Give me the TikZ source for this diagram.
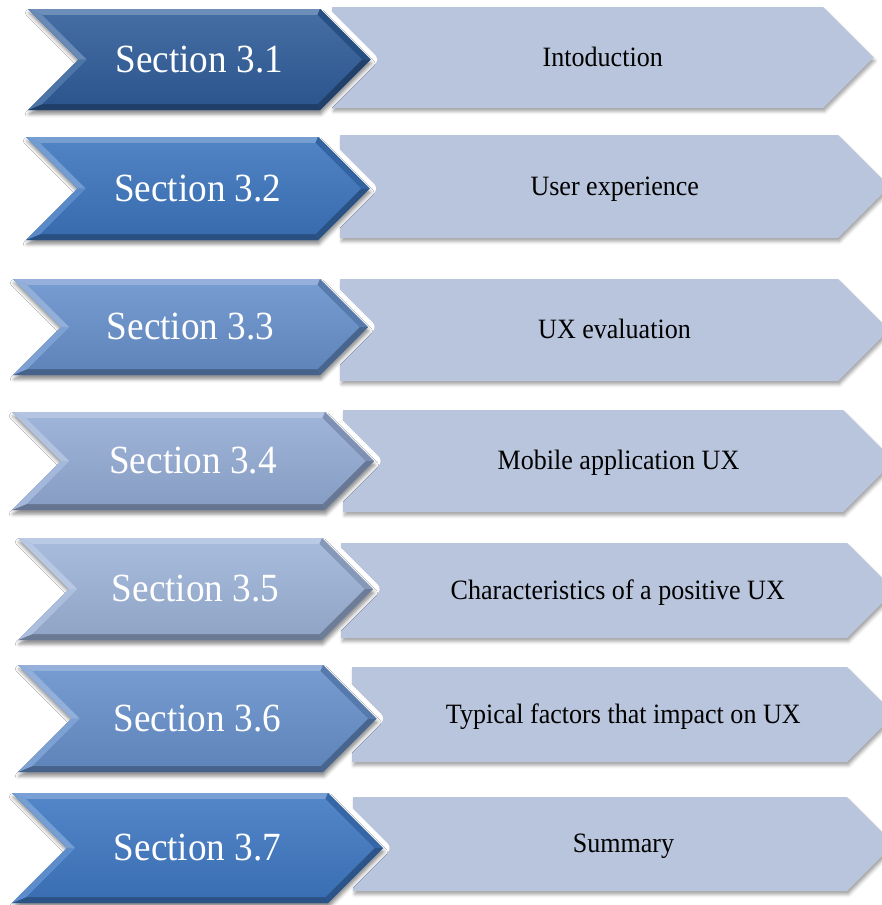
\documentclass[tikz,border=0pt]{standalone}
\usepackage{fontspec}
\usepackage{graphicx}
\setmainfont{Liberation Serif}
\usetikzlibrary{calc,shadows.blur}

\definecolor{boxfill}{HTML}{B9C5DC}
\definecolor{chevA}{HTML}{2F5D99}
\definecolor{chevB}{HTML}{3D75BD}
\definecolor{chevC}{HTML}{6790CB}
\definecolor{chevD}{HTML}{94ABD4}
\definecolor{chevE}{HTML}{9DB3D8}
\definecolor{chevF}{HTML}{6790CB}
\definecolor{chevG}{HTML}{3F78C2}

\newcommand\narrowtext[1]{\scalebox{0.93}[1]{#1}}

\tikzset{
  sectext/.style={text=white, inner sep=0pt, font=\fontsize{40}{48}\selectfont},
  topictext/.style={text=black, inner sep=0pt, text height=19pt, text depth=0pt,
    font=\fontsize{28}{34}\selectfont},
  boxshadow/.style={blur shadow={shadow xshift=1.5pt, shadow yshift=-3.5pt,
    shadow blur radius=3pt, shadow opacity=35}},
  chevshadow/.style={blur shadow={shadow xshift=1pt, shadow yshift=-4pt,
    shadow blur radius=3.5pt, shadow opacity=45}},
}

% light pentagon: name, left, top, right, bottom, text
\newcommand\topicbox[6]{%
  \pgfmathsetmacro\bh{(#5-#3)/2}%
  \pgfmathsetmacro\bm{(#5+#3)/2}%
  \path[fill=boxfill, boxshadow]
    (#2,#3) -- (#4,#3) -- (#4+\bh,\bm) -- (#4,#5) -- (#2,#5) -- cycle;
  \node[topictext] (#1) at ({(#2+#4+\bh)/2},\bm-1) {\narrowtext{#6}};
}

% bevelled chevron: name, left, top, right, bottom, colour, text
\newcommand\sectionchevron[7]{%
  \pgfmathsetmacro\hh{(#5-#3)/2}%
  \pgfmathsetmacro\mm{(#5+#3)/2}%
  \coordinate (#1-tl) at (#2,#3);
  \coordinate (#1-tr) at (#4,#3);
  \coordinate (#1-tip) at (#4+\hh,\mm);
  \coordinate (#1-br) at (#4,#5);
  \coordinate (#1-bl) at (#2,#5);
  \coordinate (#1-notch) at (#2+\hh,\mm);
  \coordinate (#1-itl) at (#2+14.5,#3+6);
  \coordinate (#1-itr) at (#4-2.5,#3+6);
  \coordinate (#1-itip) at (#4+\hh-8.5,\mm);
  \coordinate (#1-ibr) at (#4-2.5,#5-6);
  \coordinate (#1-ibl) at (#2+14.5,#5-6);
  \coordinate (#1-inotch) at (#2+\hh+8.5,\mm);
  % white halo that separates it from the box behind
  \path[draw=white, line width=13pt, line join=round]
    (#1-tl) -- (#1-tr) -- (#1-tip) -- (#1-br) -- (#1-bl) -- (#1-notch) -- cycle;
  \path[fill=#6, chevshadow]
    (#1-tl) -- (#1-tr) -- (#1-tip) -- (#1-br) -- (#1-bl) -- (#1-notch) -- cycle;
  % bevel facets
  \fill[#6!70!white] (#1-tl) -- (#1-tr) -- (#1-itr) -- (#1-itl) -- cycle;
  \fill[#6!85!black] (#1-tr) -- (#1-tip) -- (#1-itip) -- (#1-itr) -- cycle;
  \fill[#6!70!black] (#1-tip) -- (#1-br) -- (#1-ibr) -- (#1-itip) -- cycle;
  \fill[#6!68!black] (#1-br) -- (#1-bl) -- (#1-ibl) -- (#1-ibr) -- cycle;
  \fill[#6!85!white] (#1-bl) -- (#1-notch) -- (#1-inotch) -- (#1-ibl) -- cycle;
  \fill[#6!72!white] (#1-notch) -- (#1-tl) -- (#1-itl) -- (#1-inotch) -- cycle;
  \shade[top color=#6!90!white, bottom color=#6!92!black]
    (#1-itl) -- (#1-itr) -- (#1-itip) -- (#1-ibr) -- (#1-ibl) -- (#1-inotch) -- cycle;
  \node[sectext] (#1) at ({(#2+\hh+#4)/2},\mm) {\narrowtext{#7}};
}

\begin{document}
\begin{tikzpicture}[x=1pt, y=-1pt]
  \useasboundingbox (0,0) rectangle (882,905);

  \topicbox{topic1}{332}{7}{823}{108}{Intoduction}
  \sectionchevron{sec1}{28}{9}{320}{110}{chevA}{Section 3.1}

  \topicbox{topic2}{340}{135}{838}{238}{User experience}
  \sectionchevron{sec2}{26}{137}{318}{240}{chevB}{Section 3.2}

  \topicbox{topic3}{340}{279}{838}{381}{UX evaluation}
  \sectionchevron{sec3}{13}{279}{320}{375}{chevC}{Section 3.3}

  \topicbox{topic4}{343}{410}{843}{512}{Mobile application UX}
  \sectionchevron{sec4}{12}{412}{325}{510}{chevD}{Section 3.4}

  \topicbox{topic5}{341}{543}{847}{638}{Characteristics of a positive UX}
  \sectionchevron{sec5}{18}{538}{322}{640}{chevE}{Section 3.5}

  \topicbox{topic6}{352}{667}{847}{762}{Typical factors that impact on UX}
  \sectionchevron{sec6}{18}{665}{323}{772}{chevF}{Section 3.6}

  \topicbox{topic7}{353}{797}{847}{891}{Summary}
  \sectionchevron{sec7}{12}{793}{328}{903}{chevG}{Section 3.7}
\end{tikzpicture}
\end{document}
